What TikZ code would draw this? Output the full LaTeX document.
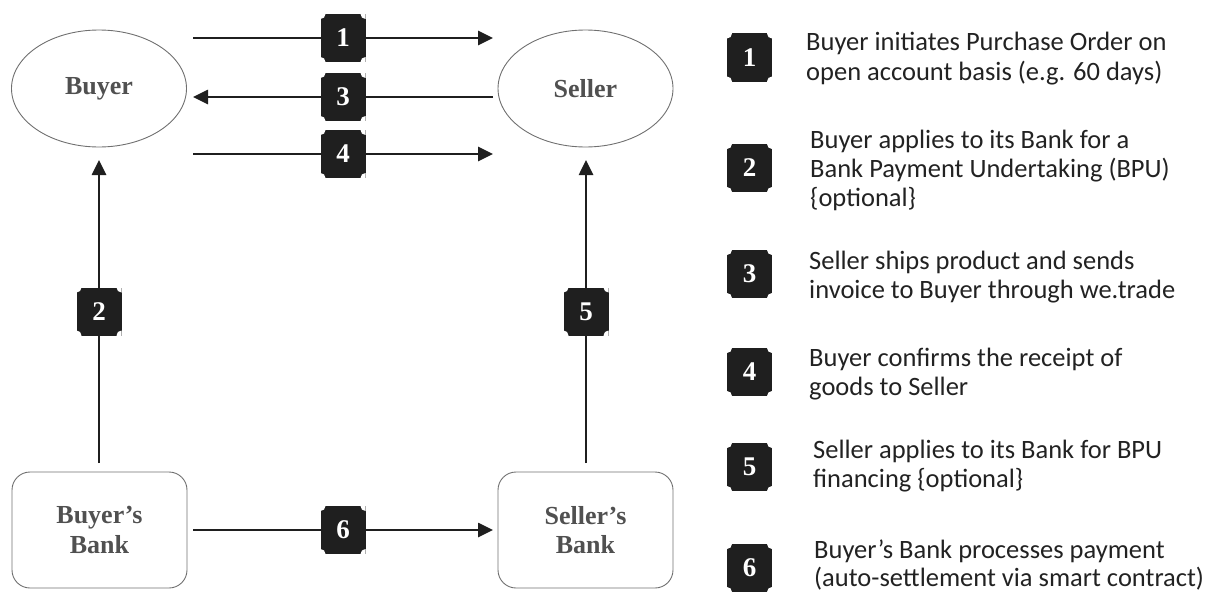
\documentclass[tikz,border=0pt]{standalone}
\usepackage{fontspec}
\setmainfont{Liberation Serif}
\newfontfamily\legfont{Carlito}
\usetikzlibrary{arrows.meta,shapes.geometric}
\definecolor{labgray}{HTML}{505050}
\definecolor{edgegray}{HTML}{707070}
\definecolor{legtext}{HTML}{222222}
\tikzset{
  party/.style={ellipse,draw=edgegray,line width=0.9pt,minimum width=175pt,minimum height=117pt,inner sep=0pt,
    font=\fontsize{26}{29}\selectfont\bfseries,text=labgray},
  bankbox/.style={rectangle,rounded corners=18pt,draw=edgegray,line width=0.9pt,minimum width=175pt,minimum height=116pt,
    inner sep=0pt,align=center,font=\fontsize{26}{29.5}\selectfont\bfseries,text=labgray},
  badge/.style={rectangle,fill=black!88,minimum width=45pt,minimum height=48pt,inner sep=0pt,
    text=white,font=\fontsize{27}{27}\selectfont\bfseries,
    path picture={
      \fill[white] (path picture bounding box.north east) circle (5pt);
      \fill[white] (path picture bounding box.north west) circle (5pt);
      \fill[white] (path picture bounding box.south east) circle (5pt);
      \fill[white] (path picture bounding box.south west) circle (5pt);
    }},
  arr/.style={line width=2.6pt,draw=black!88,-{Triangle[length=15pt,width=14pt]}},
  legline/.style={anchor=base west,inner sep=0pt,text=legtext,font=\legfont\fontsize{26.5}{28}\selectfont}
}
\begin{document}
\begin{tikzpicture}[x=1pt,y=-1pt]
\useasboundingbox (0,0) rectangle (1220,594);
% parties
\node[party] (buyer) at (99,88.5) {Buyer};
\node[party] (seller) at (585.5,88.5) {Seller};
\node[bankbox] (bbank) at (99.5,530) {Buyer's\\Bank};
\node[bankbox] (sbank) at (585.5,530) {Seller's\\Bank};
% connector end coordinates
\coordinate (a1s) at (193,38);  \coordinate (a1e) at (493,38);
\coordinate (a3s) at (493,97);  \coordinate (a3e) at (193,97);
\coordinate (a4s) at (193,154); \coordinate (a4e) at (493,154);
\coordinate (a6s) at (193,530); \coordinate (a6e) at (493,530);
\coordinate (a2s) at (99,463);  \coordinate (a2e) at (99,160);
\coordinate (a5s) at (586,463); \coordinate (a5e) at (586,160);
% connectors with badges
\draw[arr] (a1s) -- node[badge] (b1) {1} (a1e);
\draw[arr] (a3s) -- node[badge] (b3) {3} (a3e);
\draw[arr] (a4s) -- node[badge] (b4) {4} (a4e);
\draw[arr] (a6s) -- node[badge] (b6) {6} (a6e);
\draw[arr] (a2s) -- node[badge] (b2) {2} (a2e);
\draw[arr] (a5s) -- node[badge] (b5) {5} (a5e);
% legend badges
\node[badge] (l1) at (749.5,57.5) {1};
\node[badge] (l2) at (749.5,168) {2};
\node[badge] (l3) at (749.5,274) {3};
\node[badge] (l4) at (749.5,372) {4};
\node[badge] (l5) at (749.5,467) {5};
\node[badge] (l6) at (749.5,568) {6};
% legend texts
\node[legline] (t1a) at (806,51) {Buyer initiates Purchase Order on};
\node[legline] (t1b) at (806,80) {open account basis (e.g. 60 days)};
\node[legline] (t2a) at (810,148) {Buyer applies to its Bank for a};
\node[legline] (t2b) at (810,177) {Bank Payment Undertaking (BPU)};
\node[legline] (t2c) at (810,206) {\{optional\}};
\node[legline] (t3a) at (809,269) {Seller ships product and sends};
\node[legline] (t3b) at (809,298) {invoice to Buyer through we.trade};
\node[legline] (t4a) at (809,366) {Buyer confirms the receipt of};
\node[legline] (t4b) at (809,395) {goods to Seller};
\node[legline] (t5a) at (813,458) {Seller applies to its Bank for BPU};
\node[legline] (t5b) at (813,487) {financing \{optional\}};
\node[legline] (t6a) at (814,558) {Buyer’s Bank processes payment};
\node[legline] (t6b) at (814,586) {(auto-settlement via smart contract)};
\end{tikzpicture}
\end{document}
